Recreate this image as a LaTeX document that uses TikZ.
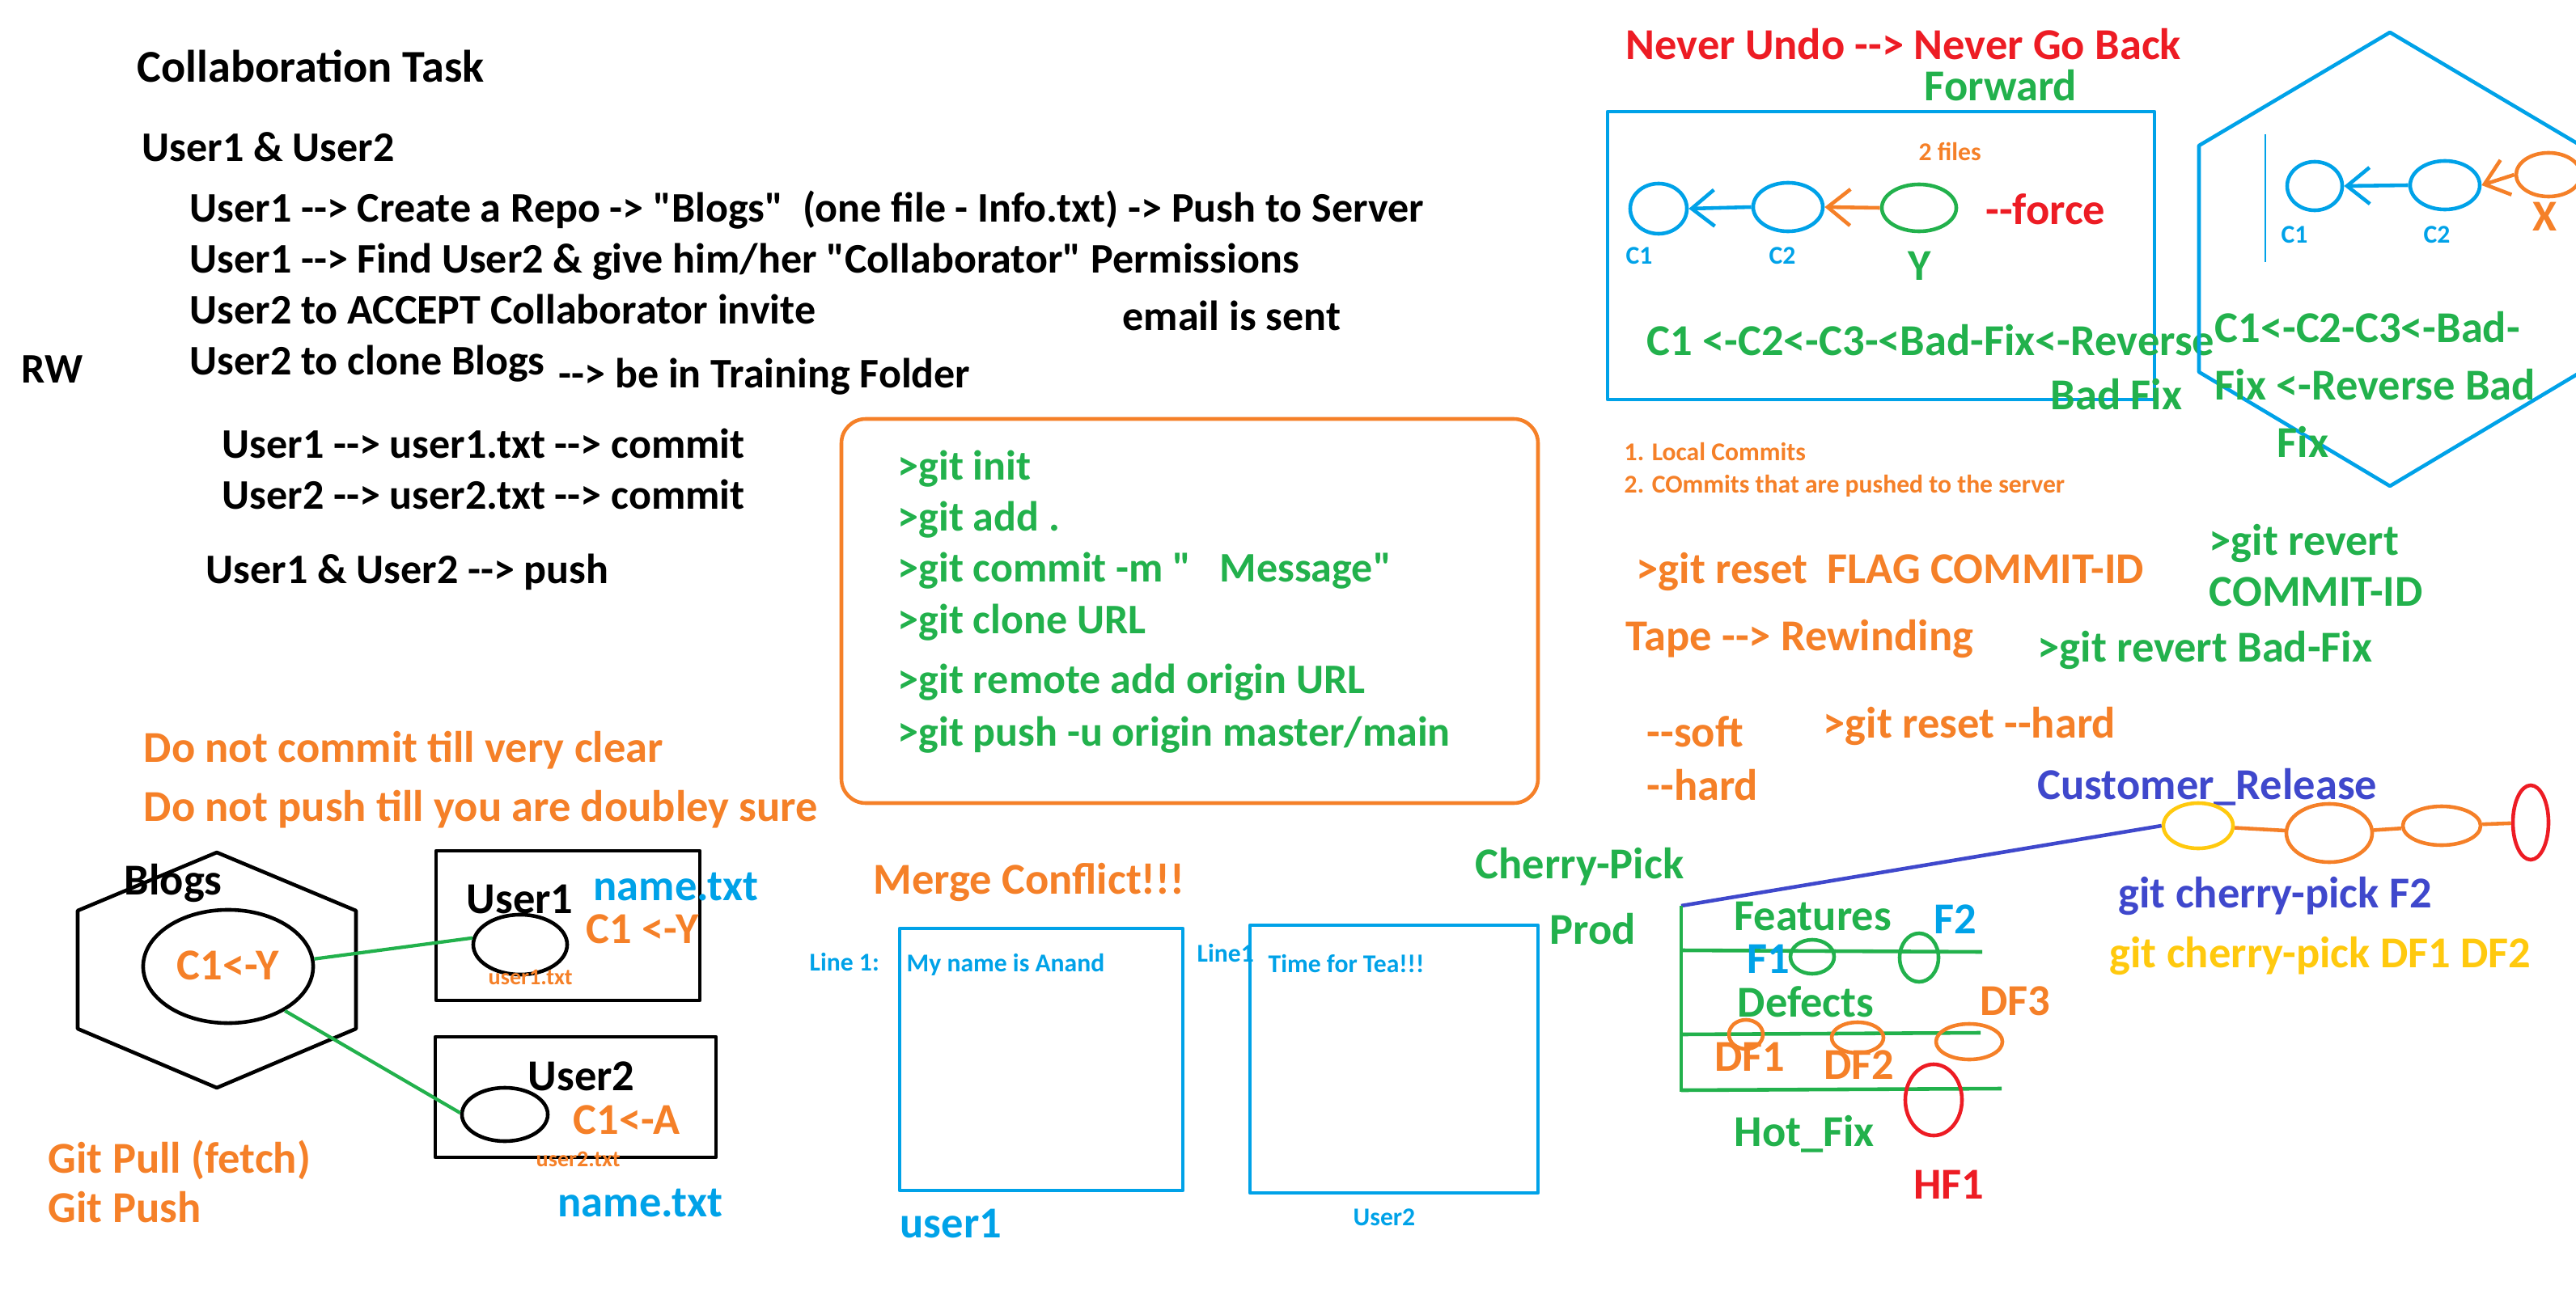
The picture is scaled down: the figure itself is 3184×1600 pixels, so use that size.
\documentclass[tikz,border=0pt]{standalone}
\usepackage{fontspec}
\setmainfont{Carlito}[Ligatures=TeXOff]
\usetikzlibrary{shapes.geometric,arrows.meta}
\definecolor{pOrange}{RGB}{245,128,40}
\definecolor{pGreen}{RGB}{34,177,76}
\definecolor{pBlue}{RGB}{0,162,232}
\definecolor{pRed}{RGB}{237,28,36}
\definecolor{pIndigo}{RGB}{63,72,204}
\definecolor{pGold}{RGB}{255,201,14}
\tikzset{
  note/.style={anchor=west, inner sep=0pt, text height=0.33cm, text depth=0pt, font=\bfseries\fontsize{15.5}{18}\selectfont},
  body/.style={note, font=\bfseries\fontsize{14.8}{17}\selectfont},
  smallnote/.style={note, text height=0.2cm, font=\bfseries\fontsize{9}{11}\selectfont},
  ring/.style={ellipse, draw=#1, line width=1.3pt, inner sep=0pt},
  pen/.style={line width=1.3pt},
  barb/.style={-{Straight Barb[length=0.28cm, width=0.45cm, line width=1.3pt]}}
}

\begin{document}
\begin{tikzpicture}[x=0.01cm, y=-0.01cm, line join=round]
  \useasboundingbox (0,0) rectangle (3184,1600);
  \clip (0,0) rectangle (3184,1600);

  % collaboration task
  \node[note, font=\bfseries\fontsize{16}{19}\selectfont] (title) at (169,85) {Collaboration Task};
  \node[body] (users) at (175,183) {User1 \& User2};
  \node[body] (step1) at (234,258) {User1 --> Create a Repo -> "Blogs"~ (one file - Info.txt) -> Push to Server};
  \node[body] (step2) at (234,321) {User1 --> Find User2 \& give him/her "Collaborator" Permissions};
  \node[body] (step3) at (234,384) {User2 to ACCEPT Collaborator invite};
  \node[body] (mail) at (1387,392) {email is sent};
  \node[body] (rw) at (26,457) {RW};
  \node[body] (step4) at (234,447) {User2 to clone Blogs};
  \node[body] (folder) at (690,463) {--> be in Training Folder};
  \node[body] (commit1) at (274,550) {User1 --> user1.txt --> commit};
  \node[body] (commit2) at (274,613) {User2 --> user2.txt --> commit};
  \node[body] (pushall) at (254,705) {User1 \& User2 --> push};
  \node[note, pOrange] (warn1) at (177,926) {Do not commit till very clear};
  \node[note, pOrange] (warn2) at (177,999) {Do not push till you are doubley sure};

  % git commands
  \draw[pOrange, pen, rounded corners=0.3cm] (1040,518) rectangle (1901,993);
  \node[body, pGreen] (init) at (1109,577) {>git init};
  \node[body, pGreen] (add) at (1109,640) {>git add .};
  \node[body, pGreen] (commit) at (1109,703) {>git commit -m "~~ Message"};
  \node[body, pGreen] (clone) at (1109,767) {>git clone URL};
  \node[body, pGreen] (remote) at (1109,841) {>git remote add origin URL};
  \node[body, pGreen] (push) at (1109,906) {>git push -u origin master/main};

  % server and users
  \draw[pen] (268,1054) -- (440,1126) -- (440,1272) -- (268,1345) -- (96,1272) -- (96,1126) -- cycle;
  \node[note] (blogs) at (153,1090) {Blogs};
  \node[ring=black, minimum width=2.1cm, minimum height=1.4cm] (blogc) at (282,1195) {};
  \node[note, anchor=center, pOrange] at (blogc) {C1<-Y};
  \draw[pen] (539,1052) rectangle (865,1237);
  \node[note] (user1) at (576,1113) {User1};
  \node[ring=black, minimum width=1.16cm, minimum height=0.74cm] (u1c) at (643,1168) {};
  \node[smallnote, pOrange, font=\bfseries\fontsize{8}{10}\selectfont] (u1file) at (603,1207) {user1.txt};
  \node[note, pOrange] (u1log) at (724,1150) {C1 <-Y};
  \node[note, pBlue] (u1name) at (733,1097) {name.txt};
  \draw[pen] (538,1282) rectangle (885,1431);
  \node[note] (user2) at (652,1332) {User2};
  \node[ring=black, minimum width=1.06cm, minimum height=0.66cm] (u2c) at (624,1378) {};
  \node[note, pOrange] (u2log) at (708,1386) {C1<-A};
  \node[smallnote, pOrange, font=\bfseries\fontsize{8}{10}\selectfont] (u2file) at (662,1432) {user2.txt};
  \node[note, pBlue] (u2name) at (689,1488) {name.txt};
  \draw[pGreen, line width=1.2pt] (blogc.5) -- (u1c.172);
  \draw[pGreen, line width=1.2pt] (blogc.-38) -- (u2c.178);
  \node[note, pOrange] (pull) at (59,1434) {Git Pull (fetch)};
  \node[note, pOrange] (gpush) at (59,1495) {Git Push};

  % merge conflict
  \node[note, pOrange] (merge) at (1079,1089) {Merge Conflict!!!};
  \draw[pBlue, pen] (1112,1148) rectangle (1462,1472);
  \draw[pBlue, pen] (1545,1144) rectangle (1901,1475);
  \node[smallnote, pBlue] (line1a) at (1000,1190) {Line 1:};
  \node[smallnote, pBlue] (text1) at (1120,1191) {My name is Anand};
  \node[smallnote, pBlue] (line1b) at (1479,1179) {Line1};
  \node[smallnote, pBlue] (text2) at (1567,1192) {Time for Tea!!!};
  \node[note, pBlue] (file1) at (1112,1514) {user1};
  \node[smallnote, pBlue] (file2) at (1672,1505) {User2};

  % never undo
  \node[note, pRed] (never) at (2009,57) {Never Undo --> Never Go Back};
  \node[note, pGreen] (forward) at (2378,108) {Forward};
  \draw[pBlue, pen] (1987,138) rectangle (2663,494);
  \node[smallnote, pOrange] (files) at (2371,188) {2 files};
  \node[ring=pBlue, minimum width=0.70cm, minimum height=0.62cm] (a1) at (2050,258) {};
  \node[ring=pBlue, minimum width=0.86cm, minimum height=0.60cm] (a2) at (2210,256) {};
  \node[ring=pGreen, minimum width=0.92cm, minimum height=0.58cm] (ay) at (2372,257) {};
  \draw[pBlue, pen, barb] (a2.west) -- (a1.east);
  \draw[pOrange, pen, barb] (ay.west) -- (a2.east);
  \node[smallnote, pBlue] (a1lbl) at (2009,316) {C1};
  \node[smallnote, pBlue] (a2lbl) at (2186,316) {C2};
  \node[note, pGreen, anchor=center] (aylbl) at (2373,330) {Y};
  \node[note, pRed] (force) at (2454,261) {--force};
  \node[note, pGreen] (chain) at (2035,423) {C1 <-C2<-C3-<Bad-Fix<-Reverse};
  \node[note, pGreen] (badfix) at (2534,490) {Bad Fix};
  \node[smallnote, pOrange] (local) at (2007,559) {1. Local Commits};
  \node[smallnote, pOrange] (pushed) at (2007,599) {2. COmmits that are pushed to the server};

  % server side revert
  \draw[pBlue, pen] (2954,40) -- (3190,180) -- (3190,460) -- (2954,601) -- (2718,460) -- (2718,180) -- cycle;
  \draw[pBlue, line width=0.4pt] (2800,166) -- (2800,324);
  \node[ring=pBlue, minimum width=0.68cm, minimum height=0.60cm] (b1) at (2861,230) {};
  \node[ring=pBlue, minimum width=0.86cm, minimum height=0.60cm] (b2) at (3022,229) {};
  \node[ring=pOrange, minimum width=0.80cm, minimum height=0.54cm] (bx) at (3150,216) {};
  \draw[pBlue, pen, barb] (b2.west) -- (b1.east);
  \draw[pOrange, pen, barb] (bx.west) -- (b2.east);
  \node[smallnote, pBlue] (b1lbl) at (2819,290) {C1};
  \node[smallnote, pBlue] (b2lbl) at (2995,290) {C2};
  \node[note, pOrange, anchor=center] (bxlbl) at (3145,269) {X};
  \node[note, pGreen] (rev1) at (2737,407) {C1<-C2-C3<-Bad-};
  \node[note, pGreen] (rev2) at (2737,478) {Fix <-Reverse Bad};
  \node[note, pGreen] (rev3) at (2814,549) {Fix};

  % reset and revert
  \node[note, pOrange] (reset) at (2022,705) {>git reset~ FLAG COMMIT-ID};
  \node[note, pGreen] (revert) at (2730,670) {>git revert};
  \node[note, pGreen] (revertid) at (2730,733) {COMMIT-ID};
  \node[note, pOrange] (tape) at (2009,788) {Tape --> Rewinding};
  \node[note, pGreen] (revertbad) at (2518,802) {>git revert Bad-Fix};
  \node[note, pOrange] (soft) at (2035,907) {--soft};
  \node[note, pOrange] (hardcmd) at (2253,896) {>git reset --hard};
  \node[note, pOrange] (hard) at (2035,973) {--hard};

  % cherry pick
  \node[note, pGreen] (cherry) at (1823,1070) {Cherry-Pick};
  \node[note, pGreen] (prod) at (1915,1151) {Prod};
  \node[note, pIndigo] (release) at (2518,972) {Customer\_Release};
  \node[ring=pGold, minimum width=0.86cm, minimum height=0.56cm] (r1) at (2717,1021) {};
  \node[ring=pOrange, minimum width=1.06cm, minimum height=0.72cm] (r2) at (2879,1030) {};
  \node[ring=pOrange, minimum width=0.96cm, minimum height=0.48cm] (r3) at (3018,1021) {};
  \node[ring=pRed, minimum width=0.44cm, minimum height=0.92cm] (r4) at (3128,1017) {};
  \draw[pOrange, pen] (r1) -- (r2) (r2) -- (r3) (r3) -- (r4);
  \coordinate (top) at (2078,1120);
  \coordinate (bottom) at (2078,1350);
  \draw[pIndigo, pen] (top) -- (r1.west);
  \draw[pGreen, pen] (top) -- (bottom);
  \draw[pGreen, pen] (2078,1175) -- (2450,1177);
  \draw[pGreen, pen] (2078,1279) -- (2448,1277);
  \draw[pGreen, pen] (2078,1348) -- (2474,1346);
  \node[note, pGreen] (features) at (2143,1134) {Features};
  \node[note, pBlue, anchor=center] (f2lbl) at (2417,1138) {F2};
  \node[note, pBlue, anchor=center] (f1lbl) at (2186,1187) {F1};
  \node[ring=pGreen, minimum width=0.54cm, minimum height=0.42cm] (f1) at (2240,1183) {};
  \node[ring=pGreen, minimum width=0.48cm, minimum height=0.60cm] (f2) at (2372,1184) {};
  \node[note, pGreen] (defects) at (2147,1241) {Defects};
  \node[note, pOrange, anchor=center] (df3lbl) at (2491,1239) {DF3};
  \node[ring=pOrange, minimum width=0.42cm, minimum height=0.36cm] (df1) at (2158,1279) {};
  \node[ring=pOrange, minimum width=0.64cm, minimum height=0.38cm] (df2) at (2296,1283) {};
  \node[ring=pOrange, minimum width=0.82cm, minimum height=0.44cm] (df3) at (2434,1288) {};
  \node[note, pOrange, anchor=center] (df1lbl) at (2163,1308) {DF1};
  \node[note, pOrange, anchor=center] (df2lbl) at (2298,1318) {DF2};
  \node[ring=pRed, minimum width=0.70cm, minimum height=0.88cm] (hf1) at (2390,1360) {};
  \node[note, pGreen] (hotfix) at (2143,1401) {Hot\_Fix};
  \node[note, pRed, anchor=center] (hf1lbl) at (2409,1466) {HF1};
  \node[note, pIndigo] (pickf2) at (2618,1106) {git cherry-pick F2};
  \node[note, pGold] (pickdf) at (2607,1180) {git cherry-pick DF1 DF2};
\end{tikzpicture}
\end{document}
